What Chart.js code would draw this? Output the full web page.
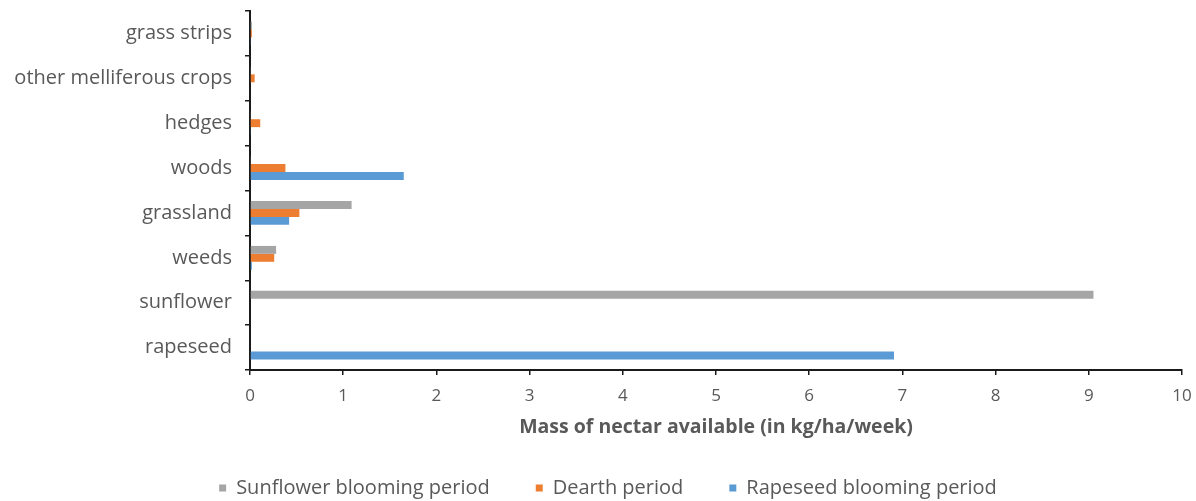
<!DOCTYPE html>
<html>
<head>
<meta charset="utf-8">
<script src="https://cdn.jsdelivr.net/npm/chart.js@4/dist/chart.umd.min.js"></script>
<style>
    html, body { margin: 0; padding: 0; background: #fff; }
    #wrap { width: 1196px; height: 501px; position: relative; }
</style>
</head>
<body>
<div id="wrap"><canvas id="nectarChart"></canvas></div>
<script>
// Nectar availability per land use
// ================================

const categories = ['grass strips', 'other melliferous crops', 'hedges', 'woods', 'grassland', 'weeds', 'sunflower', 'rapeseed'];
const sunflowerPeriod = [0.02, 0.01, 0.01, 0.01, 1.09, 0.28, 9.05, 0];
const dearthPeriod = [0.02, 0.05, 0.11, 0.38, 0.53, 0.26, 0, 0];
const rapeseedPeriod = [0.01, 0, 0.01, 1.65, 0.42, 0.02, 0, 6.91];
const xTicks = [0, 1, 2, 3, 4, 5, 6, 7, 8, 9, 10];

const TEXT = '#595959';
const AXIS = '#1a1a1a';

function makeSet(label, data, color) {
    return {
        label: label,
        data: data,
        backgroundColor: color,
        borderWidth: 0,
        categoryPercentage: 0.53,
        barPercentage: 1
    };
}

// Legend sits a bit right of the canvas centre in the original
const legendShift = {
    id: 'legendShift',
    afterLayout(chart) {
        if (!chart.legend) return;
        chart.legend.left += 17;
        chart.legend.right += 17;
    }
};

const ctx = document.getElementById('nectarChart').getContext('2d');
const nectarChart = new Chart(ctx, {
    type: 'bar',
    data: {
        labels: categories,
        datasets: [
            makeSet('Sunflower blooming period', sunflowerPeriod, '#a5a5a5'),
            makeSet('Dearth period', dearthPeriod, '#ed7d31'),
            makeSet('Rapeseed blooming period', rapeseedPeriod, '#5b9bd5')
        ]
    },
    plugins: [legendShift],
    options: {
        indexAxis: 'y',
        responsive: true,
        maintainAspectRatio: false,
        animation: false,
        layout: { padding: { top: 11, right: 14, left: 0, bottom: -7 } },
        scales: {
            x: {
                min: xTicks[0],
                max: xTicks[xTicks.length - 1],
                afterBuildTicks: (scale) => { scale.ticks = xTicks.map(v => ({ value: v })); },
                afterFit: (scale) => {
                    scale.height = 62;
                    scale.paddingLeft = 0;
                    scale.paddingRight = 0;
                },
                grid: { drawOnChartArea: false, drawTicks: true, tickLength: 5, color: AXIS, lineWidth: 1.5 },
                border: { color: AXIS, width: 2 },
                ticks: { color: TEXT, padding: 11, font: { family: 'Open Sans', size: 17 } },
                title: {
                    display: true,
                    text: 'Mass of nectar available (in kg/ha/week)',
                    color: TEXT,
                    padding: { top: 0, bottom: -7.5 },
                    font: { family: 'Open Sans', size: 19.5, weight: 'bold' }
                }
            },
            y: {
                afterFit: (scale) => {
                    scale.width = 250;
                    scale.paddingTop = 0;
                    scale.paddingBottom = 0;
                },
                grid: { drawOnChartArea: false, drawTicks: true, tickLength: 5, color: AXIS, lineWidth: 1.5 },
                border: { color: AXIS, width: 2 },
                ticks: { color: TEXT, padding: 13, font: { family: 'Open Sans', size: 20 } }
            }
        },
        plugins: {
            legend: {
                position: 'bottom',
                labels: {
                    color: TEXT,
                    boxWidth: 7,
                    boxHeight: 7,
                    padding: 46,
                    font: { family: 'Open Sans', size: 20 }
                }
            },
            tooltip: { enabled: false }
        }
    }
});
</script>
</body>
</html>
